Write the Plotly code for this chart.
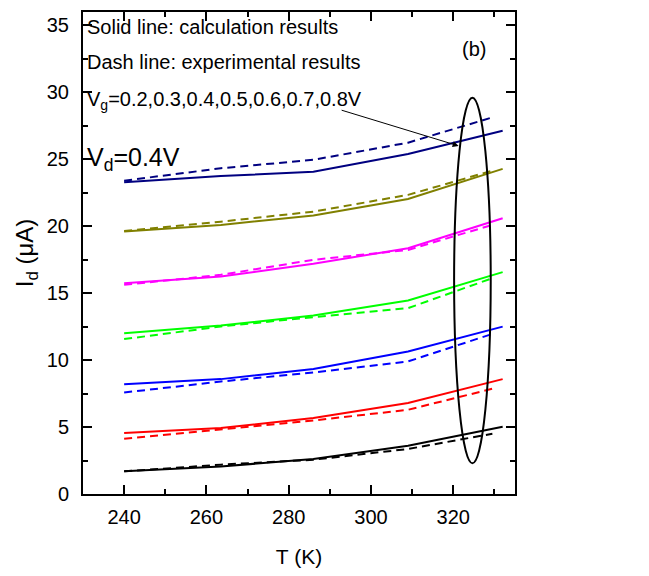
import plotly.graph_objects as go

T_calc = [240, 263.5, 286, 309, 332]
T_exp = [240, 263.5, 286, 309, 329.5]

colors = ["#000000", "#ff0000", "#0000ff", "#00ff00", "#ff00ff", "#808000", "#000080"]
vg_labels = ["0.2", "0.3", "0.4", "0.5", "0.6", "0.7", "0.8"]

calc = [
    [1.69, 2.06, 2.61, 3.60, 5.02],
    [4.55, 4.93, 5.67, 6.79, 8.58],
    [8.20, 8.58, 9.33, 10.64, 12.5],
    [12.01, 12.58, 13.33, 14.45, 16.57],
    [15.75, 16.24, 17.19, 18.36, 20.6],
    [19.6, 20.1, 20.8, 22.04, 24.28],
    [23.28, 23.75, 24.07, 25.4, 27.13],
]
exp = [
    [1.69, 2.19, 2.56, 3.36, 4.5],
    [4.13, 4.8, 5.49, 6.29, 7.86],
    [7.58, 8.4, 9.07, 9.9, 11.96],
    [11.57, 12.51, 13.21, 13.88, 16.12],
    [15.62, 16.37, 17.49, 18.23, 20.1],
    [19.65, 20.34, 21.09, 22.34, 24.15],
    [23.4, 24.33, 24.96, 26.24, 28.13],
]

FONT = "Liberation Sans, Arial"

fig = go.Figure()
for c, yc, ye, vg in zip(colors, calc, exp, vg_labels):
    fig.add_trace(go.Scatter(x=T_calc, y=yc, mode="lines", line=dict(color=c, width=2),
                             name=f"Vg={vg}V calc", showlegend=False))
    fig.add_trace(go.Scatter(x=T_exp, y=ye, mode="lines", line=dict(color=c, width=2, dash="8px,5px"),
                             name=f"Vg={vg}V exp", showlegend=False))

# ellipse
fig.add_shape(type="circle", xref="x", yref="y", x0=320.2, x1=329.1, y0=2.3, y1=29.6,
              line=dict(color="black", width=2))

ann_font = dict(family=FONT, size=20, color="black")
fig.add_annotation(x=230.5, y=34.9, xref="x", yref="y", text="Solid line: calculation results",
                   showarrow=False, xanchor="left", yanchor="middle", font=ann_font)
fig.add_annotation(x=230.5, y=32.3, xref="x", yref="y", text="Dash line: experimental results",
                   showarrow=False, xanchor="left", yanchor="middle", font=ann_font)
fig.add_annotation(x=230.5, y=29.4, xref="x", yref="y",
                   text="V<sub>g</sub>=0.2,0.3,0.4,0.5,0.6,0.7,0.8V",
                   showarrow=False, xanchor="left", yanchor="middle", font=ann_font)
fig.add_annotation(x=230.5, y=25.0, xref="x", yref="y", text="V<sub>d</sub>=0.4V",
                   showarrow=False, xanchor="left", yanchor="middle",
                   font=dict(family=FONT, size=25, color="black"))
fig.add_annotation(x=325, y=33.2, xref="x", yref="y", text="(b)", showarrow=False,
                   font=ann_font)
# arrow
fig.add_annotation(x=321.3, y=26.0, ax=292.5, ay=28.7, xref="x", yref="y", axref="x", ayref="y",
                   text="", showarrow=True, arrowhead=2, arrowsize=1.2, arrowwidth=1,
                   arrowcolor="black")

axis_common = dict(
    showgrid=False, zeroline=False, showline=True, linecolor="black", linewidth=2,
    mirror="ticks", ticks="inside", ticklen=9, tickwidth=1.5, tickcolor="black",
    tickfont=dict(family=FONT, size=20, color="black"), automargin=False,
)

fig.update_xaxes(range=[230, 335], tickvals=[240, 260, 280, 300, 320],
                 minor=dict(ticks="inside", tickvals=[250, 270, 290, 310, 330], ticklen=5,
                            tickwidth=1.5, tickcolor="black"),
                 ticklabelstandoff=4,
                 title=dict(text="T (K)", font=dict(family=FONT, size=21, color="black"), standoff=22),
                 **axis_common)
fig.update_yaxes(range=[0, 36], tickvals=[0, 5, 10, 15, 20, 25, 30, 35],
                 minor=dict(ticks="inside", tickvals=[2.5, 7.5, 12.5, 17.5, 22.5, 27.5, 32.5],
                            ticklen=5, tickwidth=1.5, tickcolor="black"),
                 ticklabelstandoff=8,
                 title=dict(text="I<sub>d</sub> (μA)", font=dict(family=FONT, size=24, color="black"),
                            standoff=6),
                 **axis_common)

fig.update_layout(width=649, height=576, margin=dict(l=83, r=134, t=12, b=82),
                  plot_bgcolor="white", paper_bgcolor="white")
fig.write_html("out.html")
